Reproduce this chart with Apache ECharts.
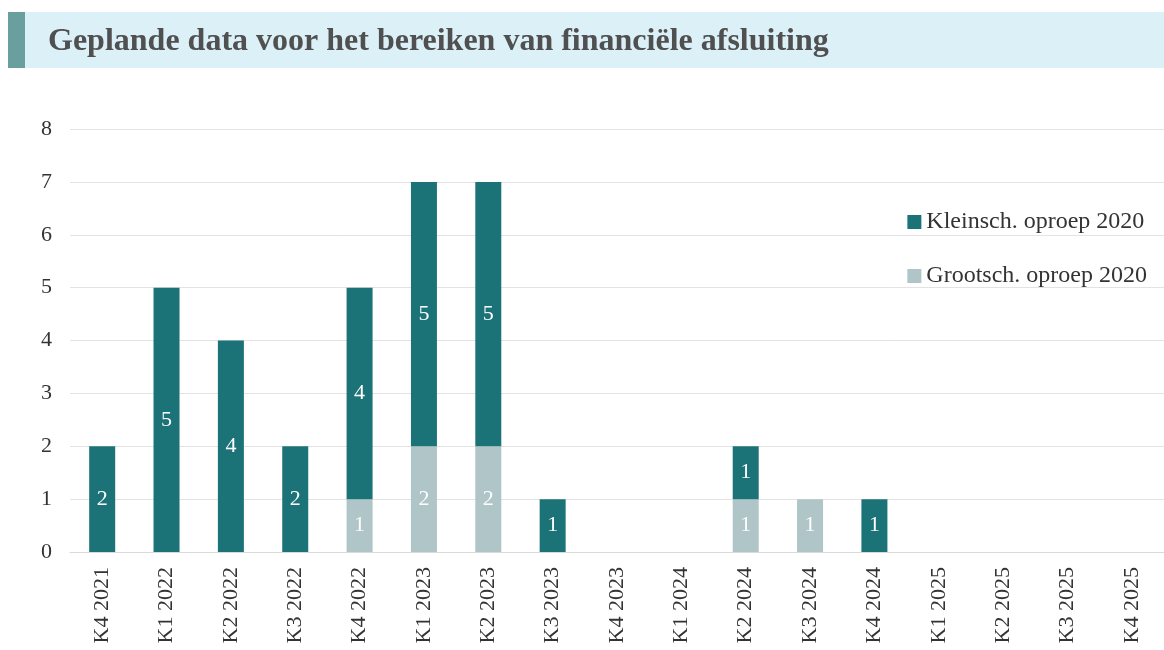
<!DOCTYPE html>
<html>
<head>
<meta charset="utf-8">
<style>
  html, body { margin: 0; padding: 0; background: #fff; }
  #chart { width: 1164px; height: 650px; }
</style>
<script src="https://cdn.jsdelivr.net/npm/echarts@6/dist/echarts.min.js"></script>
</head>
<body>
<div id="chart"></div>
<script>
// kwartalen
var categories = ['K4 2021', 'K1 2022', 'K2 2022', 'K3 2022', 'K4 2022', 'K1 2023', 'K2 2023', 'K3 2023',
  'K4 2023', 'K1 2024', 'K2 2024', 'K3 2024', 'K4 2024', 'K1 2025', 'K2 2025', 'K3 2025', 'K4 2025'];
var grootValues = [0, 0, 0, 0, 1, 2, 2, 0, 0, 0, 1, 1, 0, 0, 0, 0, 0];
var kleinValues = [2, 5, 4, 2, 4, 5, 5, 1, 0, 0, 1, 0, 1, 0, 0, 0, 0];
var yTicks = [0, 8, 1];

var font = '"Liberation Serif", "Times New Roman", serif';

var myChart = echarts.init(document.getElementById('chart'));

var labelOpt = {
    show: true,
    position: 'inside',
    color: '#fff',
    fontFamily: font,
    fontSize: 22,
    formatter: function (p) { return p.value ? p.value : ''; }
};

var option = {
    animation: false,
    textStyle: { fontFamily: font },
    graphic: [
        { type: 'rect', left: 10, top: 12, shape: { width: 1154, height: 56 }, style: { fill: '#dbf1f7' } },
        { type: 'rect', left: 8, top: 12, shape: { width: 17, height: 56 }, style: { fill: '#6a9fa0' } },
        { type: 'text', left: 48, top: 26, style: { text: 'Geplande data voor het bereiken van financiële afsluiting',
            font: 'bold 32px ' + font, fill: '#505050' } }
    ],
    legend: {
        orient: 'vertical',
        right: 12,
        top: 205,
        itemGap: 30,
        itemWidth: 14,
        itemHeight: 14,
        itemStyle: { borderWidth: 0 },
        icon: 'rect',
        data: ['Kleinsch. oproep 2020', 'Grootsch. oproep 2020'],
        textStyle: { fontFamily: font, fontSize: 24, color: '#333', padding: [0, 0, 0, 0] }
    },
    grid: { left: 70, right: -2, top: 129, bottom: 98, containLabel: false },
    xAxis: {
        type: 'category',
        data: categories,
        axisLine: { lineStyle: { color: '#d9d9d9' } },
        axisTick: { show: false },
        axisLabel: { rotate: 90, color: '#333', fontFamily: font, fontSize: 22, margin: 15 }
    },
    yAxis: {
        type: 'value',
        min: yTicks[0],
        max: yTicks[1],
        interval: yTicks[2],
        axisLine: { show: false },
        axisTick: { show: false },
        axisLabel: { color: '#333', fontFamily: font, fontSize: 22, margin: 18 },
        splitLine: { lineStyle: { color: '#e3e3e3' } }
    },
    series: [
        {
            name: 'Grootsch. oproep 2020',
            type: 'bar',
            stack: 'total',
            barWidth: 26,
            data: grootValues,
            itemStyle: { color: '#afc5c8' },
            label: labelOpt
        },
        {
            name: 'Kleinsch. oproep 2020',
            type: 'bar',
            stack: 'total',
            barWidth: 26,
            data: kleinValues,
            itemStyle: { color: '#1b7378' },
            label: labelOpt
        }
    ]
};
myChart.setOption(option);
</script>
</body>
</html>
